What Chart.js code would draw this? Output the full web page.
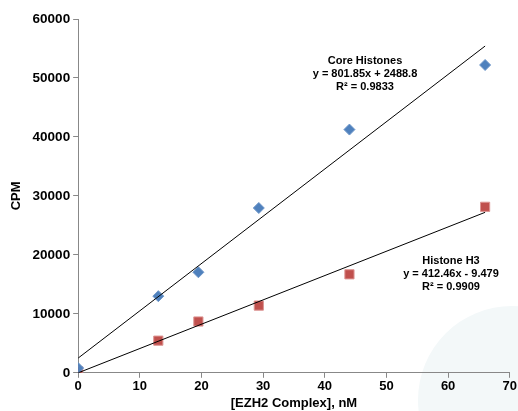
<!DOCTYPE html>
<html>
<head>
<meta charset="utf-8">
<script src="https://cdn.jsdelivr.net/npm/chart.js@4/dist/chart.umd.min.js"></script>
<style>
  html, body { margin: 0; padding: 0; background: #fff; }
  #wrap { width: 518px; height: 411px; }
</style>
</head>
<body>
<div id="wrap"><canvas id="grafico" width="518" height="411"></canvas></div>
<script>
// dados
const concentracoes = [0, 13, 19.5, 29.3, 44, 66];
const coreHistones = [800, 13000, 17050, 27950, 41250, 52200];
const histoneH3 = [250, 5450, 8700, 11400, 16700, 28150];

// linhas de tendencia (coeficientes mostrados no grafico)
const coreSlope = 801.85, coreIntercept = 2488.8;
const h3Slope = 412.46, h3Intercept = -9.479;
const xTicks = [0, 10, 20, 30, 40, 50, 60, 70];
const yTicks = [0, 10000, 20000, 30000, 40000, 50000, 60000];

const corePontos = concentracoes.map((x, i) => ({ x: x, y: coreHistones[i] }));
const h3Pontos = concentracoes.map((x, i) => ({ x: x, y: histoneH3[i] }));
const xMin = concentracoes[0], xMax = concentracoes[concentracoes.length - 1];
const coreLinha = [xMin, xMax].map(x => ({ x: x, y: coreSlope * x + coreIntercept }));
const h3Linha = [xMin, xMax].map(x => ({ x: x, y: h3Slope * x + h3Intercept }));

const fonte = "'Liberation Sans', Arial, sans-serif";

// circulo claro no canto inferior direito
const fundo = {
    id: 'fundo',
    beforeDraw(chart) {
        const ctx = chart.ctx;
        ctx.save();
        ctx.fillStyle = '#f3f8f9';
        ctx.beginPath();
        ctx.arc(512, 400, 94, 0, Math.PI * 2);
        ctx.fill();
        ctx.restore();
    }
};

// rotulos das equacoes
const rotulos = {
    id: 'rotulos',
    afterDraw(chart) {
        const ctx = chart.ctx;
        ctx.save();
        ctx.font = "bold 11px " + fonte;
        ctx.fillStyle = '#000';
        ctx.textAlign = 'center';
        ctx.textBaseline = 'middle';
        const blocos = [
            { x: 365, y: 61, linhas: ['Core Histones', 'y = 801.85x + 2488.8', 'R² = 0.9833'] },
            { x: 451, y: 261, linhas: ['Histone H3', 'y = 412.46x - 9.479', 'R² = 0.9909'] }
        ];
        blocos.forEach(b => {
            b.linhas.forEach((t, i) => ctx.fillText(t, b.x, b.y + i * 13));
        });
        ctx.restore();
    }
};

new Chart(document.querySelector('#grafico'), {
    type: 'scatter',
    data: {
        datasets: [
            { label: 'Core Histones trend', data: coreLinha, showLine: true, borderColor: '#000', borderWidth: 1, pointRadius: 0 },
            { label: 'Histone H3 trend', data: h3Linha, showLine: true, borderColor: '#000', borderWidth: 1, pointRadius: 0 },
            { label: 'Core Histones', data: corePontos, pointStyle: 'rectRot', pointRadius: 5.5, backgroundColor: '#4f81bd', borderColor: '#6f97c9', borderWidth: 1 },
            { label: 'Histone H3', data: h3Pontos, pointStyle: 'rect', pointRadius: 6.5, backgroundColor: '#c0504d', borderColor: '#dd9593', borderWidth: 1 }
        ]
    },
    options: {
        responsive: false,
        animation: false,
        layout: { padding: { top: 19, right: 0, left: 9, bottom: 0 } },
        plugins: { legend: { display: false }, tooltip: { enabled: false } },
        scales: {
            x: {
                type: 'linear', min: 0, max: 70,
                afterBuildTicks: ax => { ax.ticks = xTicks.map(v => ({ value: v })); },
                grid: { display: true, drawOnChartArea: false, drawTicks: true, tickLength: 5, tickColor: '#888' },
                border: { color: '#888', width: 1 },
                ticks: { color: '#000', font: { family: fonte, size: 13, weight: 'bold' }, padding: 1, maxRotation: 0, callback: v => String(v) },
                title: { display: true, text: '[EZH2 Complex], nM', color: '#000', font: { family: fonte, size: 13, weight: 'bold' }, padding: { top: 0, bottom: 0 } }
            },
            y: {
                type: 'linear', min: 0, max: 60000,
                afterBuildTicks: ax => { ax.ticks = yTicks.map(v => ({ value: v })); },
                grid: { display: true, drawOnChartArea: false, drawTicks: true, tickLength: 5, tickColor: '#888' },
                border: { color: '#888', width: 1 },
                ticks: { color: '#000', font: { family: fonte, size: 13.5, weight: 'bold' }, padding: 3, callback: v => String(v) },
                title: { display: true, text: 'CPM', color: '#000', font: { family: fonte, size: 13, weight: 'bold' }, padding: { top: 0, bottom: 5 } }
            }
        }
    },
    plugins: [fundo, rotulos]
});
</script>
</body>
</html>
